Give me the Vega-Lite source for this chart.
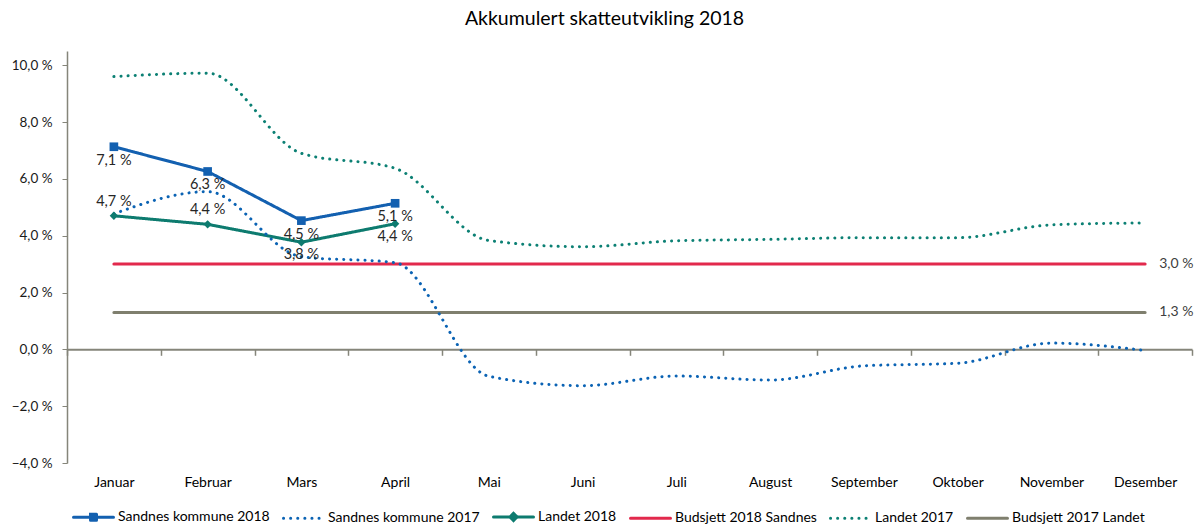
{
  "$schema": "https://vega.github.io/schema/vega-lite/v6.json",
  "width": 1125,
  "height": 412,
  "autosize": {"type": "none"},
  "padding": {"left": 67, "top": 51, "right": 8, "bottom": 61},
  "background": "#ffffff",
  "title": {"text": "Akkumulert skatteutvikling 2018", "font": "Lato", "fontSize": 19.5, "fontWeight": "normal", "color": "#000000", "anchor": "middle", "offset": 22, "dx": -25},
  "config": {"view": {"stroke": null}, "text": {"font": "Lato"}},
  "data": {"values": [
    {"maned": "Januar", "serie": "Sandnes kommune 2018", "verdi": 7.13},
    {"maned": "Februar", "serie": "Sandnes kommune 2018", "verdi": 6.26},
    {"maned": "Mars", "serie": "Sandnes kommune 2018", "verdi": 4.53},
    {"maned": "April", "serie": "Sandnes kommune 2018", "verdi": 5.14},
    {"maned": "Januar", "serie": "Landet 2018", "verdi": 4.7},
    {"maned": "Februar", "serie": "Landet 2018", "verdi": 4.4},
    {"maned": "Mars", "serie": "Landet 2018", "verdi": 3.77},
    {"maned": "April", "serie": "Landet 2018", "verdi": 4.42},
    {"maned": "Januar", "serie": "Sandnes kommune 2017", "verdi": 4.77},
    {"maned": "Februar", "serie": "Sandnes kommune 2017", "verdi": 5.55},
    {"maned": "Mars", "serie": "Sandnes kommune 2017", "verdi": 3.26},
    {"maned": "April", "serie": "Sandnes kommune 2017", "verdi": 3.05},
    {"maned": "Mai", "serie": "Sandnes kommune 2017", "verdi": -0.95},
    {"maned": "Juni", "serie": "Sandnes kommune 2017", "verdi": -1.28},
    {"maned": "Juli", "serie": "Sandnes kommune 2017", "verdi": -0.94},
    {"maned": "August", "serie": "Sandnes kommune 2017", "verdi": -1.08},
    {"maned": "September", "serie": "Sandnes kommune 2017", "verdi": -0.58},
    {"maned": "Oktober", "serie": "Sandnes kommune 2017", "verdi": -0.49},
    {"maned": "November", "serie": "Sandnes kommune 2017", "verdi": 0.22},
    {"maned": "Desember", "serie": "Sandnes kommune 2017", "verdi": -0.04},
    {"maned": "Januar", "serie": "Landet 2017", "verdi": 9.6},
    {"maned": "Februar", "serie": "Landet 2017", "verdi": 9.72},
    {"maned": "Mars", "serie": "Landet 2017", "verdi": 6.9},
    {"maned": "April", "serie": "Landet 2017", "verdi": 6.37},
    {"maned": "Mai", "serie": "Landet 2017", "verdi": 3.83},
    {"maned": "Juni", "serie": "Landet 2017", "verdi": 3.61},
    {"maned": "Juli", "serie": "Landet 2017", "verdi": 3.82},
    {"maned": "August", "serie": "Landet 2017", "verdi": 3.87},
    {"maned": "September", "serie": "Landet 2017", "verdi": 3.93},
    {"maned": "Oktober", "serie": "Landet 2017", "verdi": 3.93},
    {"maned": "November", "serie": "Landet 2017", "verdi": 4.38},
    {"maned": "Desember", "serie": "Landet 2017", "verdi": 4.45},
    {"maned": "Januar", "serie": "Budsjett 2018 Sandnes", "verdi": 3.0},
    {"maned": "Februar", "serie": "Budsjett 2018 Sandnes", "verdi": 3.0},
    {"maned": "Mars", "serie": "Budsjett 2018 Sandnes", "verdi": 3.0},
    {"maned": "April", "serie": "Budsjett 2018 Sandnes", "verdi": 3.0},
    {"maned": "Mai", "serie": "Budsjett 2018 Sandnes", "verdi": 3.0},
    {"maned": "Juni", "serie": "Budsjett 2018 Sandnes", "verdi": 3.0},
    {"maned": "Juli", "serie": "Budsjett 2018 Sandnes", "verdi": 3.0},
    {"maned": "August", "serie": "Budsjett 2018 Sandnes", "verdi": 3.0},
    {"maned": "September", "serie": "Budsjett 2018 Sandnes", "verdi": 3.0},
    {"maned": "Oktober", "serie": "Budsjett 2018 Sandnes", "verdi": 3.0},
    {"maned": "November", "serie": "Budsjett 2018 Sandnes", "verdi": 3.0},
    {"maned": "Desember", "serie": "Budsjett 2018 Sandnes", "verdi": 3.0},
    {"maned": "Januar", "serie": "Budsjett 2017 Landet", "verdi": 1.3},
    {"maned": "Februar", "serie": "Budsjett 2017 Landet", "verdi": 1.3},
    {"maned": "Mars", "serie": "Budsjett 2017 Landet", "verdi": 1.3},
    {"maned": "April", "serie": "Budsjett 2017 Landet", "verdi": 1.3},
    {"maned": "Mai", "serie": "Budsjett 2017 Landet", "verdi": 1.3},
    {"maned": "Juni", "serie": "Budsjett 2017 Landet", "verdi": 1.3},
    {"maned": "Juli", "serie": "Budsjett 2017 Landet", "verdi": 1.3},
    {"maned": "August", "serie": "Budsjett 2017 Landet", "verdi": 1.3},
    {"maned": "September", "serie": "Budsjett 2017 Landet", "verdi": 1.3},
    {"maned": "Oktober", "serie": "Budsjett 2017 Landet", "verdi": 1.3},
    {"maned": "November", "serie": "Budsjett 2017 Landet", "verdi": 1.3},
    {"maned": "Desember", "serie": "Budsjett 2017 Landet", "verdi": 1.3}
  ]},
  "transform": [
    {"calculate": "replace(format(datum.verdi, '.1f'), '.', ',') + ' %'", "as": "etikett"}
  ],
  "encoding": {
    "x": {
      "field": "maned", "type": "ordinal",
      "sort": ["Januar", "Februar", "Mars", "April", "Mai", "Juni", "Juli", "August", "September", "Oktober", "November", "Desember"],
      "scale": {"type": "band", "paddingInner": 0, "paddingOuter": 0},
      "axis": {"title": null, "orient": "bottom", "offset": -113.7, "labelAngle": 0, "domainColor": "#85857a", "domainWidth": 2, "tickColor": "#85857a", "tickWidth": 1.5, "tickSize": 6, "tickBand": "extent", "labelPadding": 120, "labelFont": "Lato", "labelFontSize": 14, "labelColor": "#000000"}
    },
    "y": {
      "field": "verdi", "type": "quantitative",
      "scale": {"domain": [-4, 10.5], "nice": false, "zero": false},
      "axis": {"title": null, "values": [-4, -2, 0, 2, 4, 6, 8, 10], "grid": false, "labelExpr": "replace(format(datum.value, '.1f'), '.', ',') + ' %'", "domainColor": "#85857a", "domainWidth": 1.5, "tickColor": "#85857a", "tickWidth": 1, "tickSize": 5, "labelPadding": 10, "labelFont": "Lato", "labelFontSize": 13.5, "labelColor": "#1a1a1a"}
    }
  },
  "layer": [
    {
      "transform": [{"filter": {"field": "serie", "oneOf": ["Budsjett 2018 Sandnes", "Budsjett 2017 Landet", "Landet 2018", "Sandnes kommune 2018"]}}],
      "mark": {"type": "line", "strokeWidth": 3, "strokeCap": "round", "interpolate": "linear"},
      "encoding": {
        "color": {
          "field": "serie", "type": "nominal",
          "scale": {"domain": ["Sandnes kommune 2018", "Sandnes kommune 2017", "Landet 2018", "Budsjett 2018 Sandnes", "Landet 2017", "Budsjett 2017 Landet"], "range": ["#1360b0", "#0b63b4", "#0d7b6f", "#e2294c", "#0c8074", "#7f7f6e"]},
          "legend": {
            "title": null, "orient": "none", "legendX": 5, "legendY": 444, "direction": "horizontal",
            "symbolType": "stroke", "symbolSize": 1600, "symbolStrokeWidth": 3,
            "labelFont": "Lato", "labelFontSize": 14, "labelColor": "#000000", "labelOffset": 3, "columnPadding": 7,
            "encode": {"symbols": {"update": {
              "shape": {"signal": "datum.value === 'Sandnes kommune 2018' ? 'M-1,0L1,0M-0.15,-0.15L0.15,-0.15L0.15,0.15L-0.15,0.15Z' : datum.value === 'Landet 2018' ? 'M-1,0L1,0M0,-0.18L0.18,0L0,0.18L-0.18,0Z' : 'stroke'"},
              "fill": {"scale": "color", "field": "value"},
              "strokeCap": {"value": "round"}
            }}}
          }
        },
        "strokeDash": {
          "field": "serie", "type": "nominal",
          "scale": {"domain": ["Sandnes kommune 2018", "Sandnes kommune 2017", "Landet 2018", "Budsjett 2018 Sandnes", "Landet 2017", "Budsjett 2017 Landet"], "range": [[1, 0], [0.1, 7], [1, 0], [1, 0], [0.1, 7], [1, 0]]},
          "legend": {"title": null, "orient": "none", "legendX": 5, "legendY": 444, "direction": "horizontal", "symbolType": "stroke", "symbolSize": 1600, "symbolStrokeWidth": 3, "labelFont": "Lato", "labelFontSize": 14, "labelColor": "#000000", "labelOffset": 3, "columnPadding": 7}
        }
      }
    },
    {
      "transform": [{"filter": {"field": "serie", "oneOf": ["Sandnes kommune 2017", "Landet 2017"]}}],
      "mark": {"type": "line", "strokeWidth": 3, "strokeCap": "round", "interpolate": "monotone"},
      "encoding": {
        "color": {"field": "serie", "type": "nominal"},
        "strokeDash": {"field": "serie", "type": "nominal"}
      }
    },
    {
      "transform": [{"filter": {"field": "serie", "equal": "Sandnes kommune 2018"}}],
      "mark": {"type": "point", "shape": "square", "filled": true, "size": 75, "color": "#1360b0", "opacity": 1}
    },
    {
      "transform": [{"filter": {"field": "serie", "equal": "Landet 2018"}}],
      "mark": {"type": "point", "shape": "diamond", "filled": true, "size": 70, "color": "#0d7b6f", "opacity": 1}
    },
    {
      "transform": [{"filter": {"field": "serie", "equal": "Sandnes kommune 2018"}}],
      "mark": {"type": "text", "fontSize": 14.5, "color": "#262626", "dy": 14, "baseline": "middle"},
      "encoding": {"text": {"field": "etikett"}}
    },
    {
      "transform": [{"filter": {"field": "serie", "equal": "Landet 2018"}}, {"filter": {"field": "maned", "oneOf": ["Januar", "Februar"]}}],
      "mark": {"type": "text", "fontSize": 14.5, "color": "#262626", "dy": -14, "baseline": "middle"},
      "encoding": {"text": {"field": "etikett"}}
    },
    {
      "transform": [{"filter": {"field": "serie", "equal": "Landet 2018"}}, {"filter": {"field": "maned", "oneOf": ["Mars", "April"]}}],
      "mark": {"type": "text", "fontSize": 14.5, "color": "#262626", "dy": 13, "baseline": "middle"},
      "encoding": {"text": {"field": "etikett"}}
    },
    {
      "transform": [{"filter": {"field": "serie", "oneOf": ["Budsjett 2018 Sandnes", "Budsjett 2017 Landet"]}}, {"filter": {"field": "maned", "equal": "Desember"}}],
      "mark": {"type": "text", "fontSize": 14, "color": "#404040", "dx": 14, "align": "left", "baseline": "middle"},
      "encoding": {"text": {"field": "etikett"}}
    }
  ]
}
